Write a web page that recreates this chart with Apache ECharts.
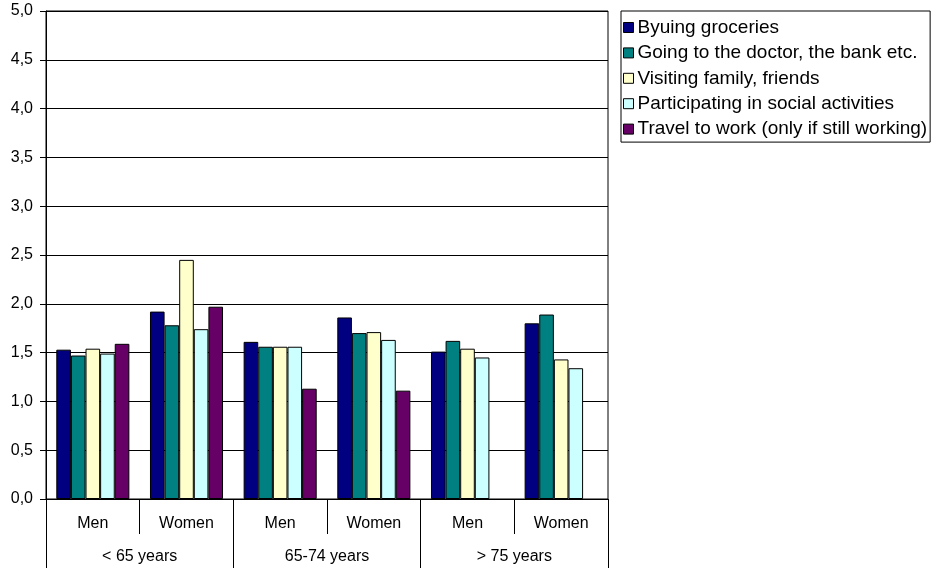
<!DOCTYPE html>
<html>
<head>
<meta charset="utf-8">
<script src="https://cdn.jsdelivr.net/npm/echarts@6/dist/echarts.min.js"></script>
<style>
html,body{margin:0;padding:0;background:#fff;}
#c{width:931px;height:568px;}
</style>
</head>
<body>
<div id="c"></div>
<script>
var categories = ['Men', 'Women', 'Men', 'Women', 'Men', 'Women'];
var ageGroups = ['< 65 years', '65-74 years', '> 75 years'];
var seriesNames = [
  'Byuing groceries',
  'Going to the doctor, the bank etc.',
  'Visiting family, friends',
  'Participating in social activities',
  'Travel to work (only if still working)'
];
var groceries = [1.53, 1.92, 1.61, 1.86, 1.51, 1.80];
var doctorBank = [1.47, 1.78, 1.56, 1.70, 1.62, 1.89];
var visiting = [1.54, 2.45, 1.56, 1.71, 1.54, 1.43];
var social = [1.49, 1.74, 1.56, 1.63, 1.45, 1.34];
var travelWork = [1.59, 1.97, 1.13, 1.11, null, null];
var colors = ['#000080', '#008080', '#FFFFCC', '#CCFFFF', '#660066'];

var seriesData = [groceries, doctorBank, visiting, social, travelWork];
var FONT = '"Liberation Sans", Arial, sans-serif';

var chart = echarts.init(document.getElementById('c'));
chart.setOption({
  animation: false,
  backgroundColor: '#fff',
  textStyle: { fontFamily: FONT, color: '#000' },
  grid: {
    left: 46, right: 323, top: 11, bottom: 69,
    show: true, borderColor: '#000', borderWidth: 1, backgroundColor: 'transparent'
  },
  legend: {
    orient: 'vertical',
    left: 621, top: 11,
    padding: [6.5, 3, 3, 2],
    itemGap: 5.4,
    itemWidth: 10, itemHeight: 10,
    borderColor: '#000', borderWidth: 1,
    icon: 'rect',
    itemStyle: { borderColor: '#000', borderWidth: 1 },
    textStyle: { fontFamily: FONT, fontSize: 19, color: '#000', lineHeight: 20, padding: [0, 0, 0, -1] },
    data: seriesNames
  },
  xAxis: [
    {
      type: 'category',
      data: categories,
      position: 'bottom',
      axisLine: { show: true, lineStyle: { color: '#000', width: 1 } },
      axisTick: { show: true, length: 35, interval: 0, lineStyle: { color: '#000' } },
      axisLabel: { interval: 0, margin: 17, fontSize: 16, fontFamily: FONT, color: '#000' },
      splitLine: { show: false }
    },
    {
      type: 'category',
      data: ageGroups,
      position: 'bottom',
      offset: 0,
      axisLine: { show: false },
      axisTick: { show: true, length: 69, interval: 0, lineStyle: { color: '#000' } },
      axisLabel: { interval: 0, margin: 50, fontSize: 16, fontFamily: FONT, color: '#000' },
      splitLine: { show: false }
    }
  ],
  yAxis: {
    type: 'value',
    min: 0, max: 5, interval: 0.5,
    axisLine: { show: true, lineStyle: { color: '#000', width: 1 } },
    axisTick: { show: true, length: 6, lineStyle: { color: '#000' } },
    axisLabel: {
      margin: 13, fontSize: 16, fontFamily: FONT, color: '#000',
      formatter: function (v) { return v.toFixed(1).replace('.', ','); }
    },
    splitLine: { show: true, lineStyle: { color: '#000', width: 1 } }
  },
  series: seriesNames.map(function (name, i) {
    return {
      name: name,
      type: 'bar',
      xAxisIndex: 0,
      data: seriesData[i],
      barGap: '0%',
      barCategoryGap: '22%',
      itemStyle: { color: colors[i], borderColor: '#000', borderWidth: 1 }
    };
  })
});
</script>
</body>
</html>
